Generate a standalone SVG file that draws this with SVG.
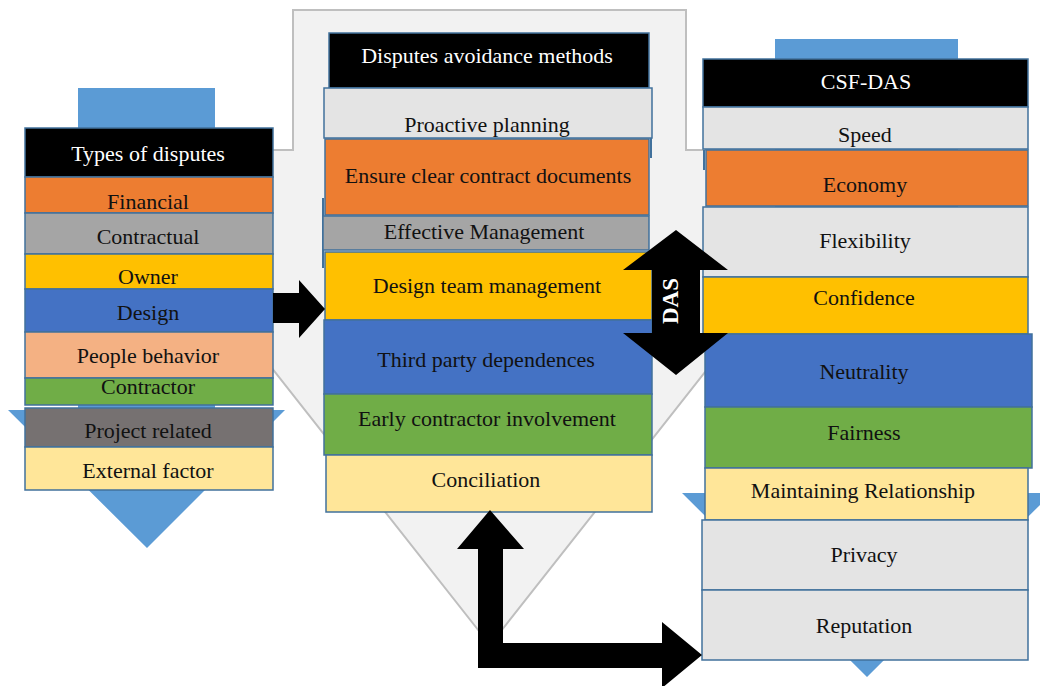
<svg xmlns="http://www.w3.org/2000/svg" width="1040" height="686" viewBox="0 0 1040 686">
<style>
text{font-family:'Liberation Serif','DejaVu Serif',serif;font-size:22px;fill:#111111;text-anchor:middle}
text.h{fill:#ffffff}
text.das{fill:#ffffff;font-weight:bold;font-size:23px}
rect.b{stroke:#41719C;stroke-width:1.5}
.hd{fill:#000000}
.or{fill:#ED7D31}
.gy{fill:#A5A5A5}
.gd{fill:#FFC000}
.bl{fill:#4472C4}
.pe{fill:#F4B183}
.gr{fill:#70AD47}
.dg{fill:#767171}
.ly{fill:#FFE699}
.lg{fill:#E4E4E4}
.bgarrow{fill:#5B9BD5;stroke:none}
.big{fill:#F2F2F2;stroke:#BFBFBF;stroke-width:2}
.blk{fill:#000000;stroke:none}
.edge{stroke:#41719C;stroke-width:2}
</style>
<rect x="0" y="0" width="1040" height="686" fill="#ffffff"/>
<g id="background-arrows">
<polygon class="big" points="293,10 686,10 686,150 880,150 490,645 100,150 293,150"/>
<polygon class="bgarrow" points="78,88 215,88 215,410 285,410 147,548 8,410 78,410"/>
<polygon class="bgarrow" points="775,39 958,39 958,493 1052,493 867,677 682,493 775,493"/>
</g>
<g id="types-of-disputes">
<rect class="b hd" x="25" y="128" width="248" height="49"/>
<text class="h" x="148" y="161">Types of disputes</text>
<rect class="b or" x="25" y="177" width="248" height="36"/>
<text x="148" y="209">Financial</text>
<rect class="b gy" x="25" y="213" width="248" height="41"/>
<text x="148" y="244">Contractual</text>
<rect class="b gd" x="25" y="254" width="248" height="35"/>
<text x="148" y="284">Owner</text>
<rect class="b bl" x="25" y="289" width="248" height="43"/>
<text x="148" y="320">Design</text>
<rect class="b pe" x="25" y="332" width="248" height="46"/>
<text x="148" y="363">People behavior</text>
<rect class="b gr" x="25" y="378" width="248" height="27"/>
<text x="148" y="394">Contractor</text>
<rect class="b dg" x="25" y="408" width="248" height="39"/>
<text x="148" y="438">Project related</text>
<rect class="b ly" x="25" y="447" width="248" height="43"/>
<text x="148" y="478">External factor</text>
</g>
<g id="disputes-avoidance-methods">
<line class="edge" x1="323" y1="198" x2="323" y2="268"/>
<line class="edge" x1="651" y1="138" x2="651" y2="158"/>
<rect class="b hd" x="329" y="33" width="320" height="55"/>
<text class="h" x="487" y="63">Disputes avoidance methods</text>
<rect class="b lg" x="324" y="88" width="328" height="50"/>
<text x="487" y="132">Proactive planning</text>
<rect class="b or" x="325" y="139" width="324" height="76"/>
<text x="488" y="183">Ensure clear contract documents</text>
<rect class="b gy" x="323" y="216" width="326" height="34"/>
<text x="484" y="239">Effective Management</text>
<rect class="b gd" x="325" y="252" width="327" height="68"/>
<text x="487" y="293">Design team management</text>
<rect class="b bl" x="324" y="320" width="328" height="74"/>
<text x="486" y="367">Third party dependences</text>
<rect class="b gr" x="324" y="394" width="328" height="61"/>
<text x="487" y="426">Early contractor involvement</text>
<rect class="b ly" x="326" y="455" width="326" height="57"/>
<text x="486" y="487">Conciliation</text>
</g>
<g id="csf-das">
<line class="edge" x1="704" y1="150" x2="704" y2="170"/>
<rect class="b hd" x="703" y="59" width="325" height="48"/>
<text class="h" x="866" y="89">CSF-DAS</text>
<rect class="b lg" x="703" y="107" width="325" height="42"/>
<text x="865" y="142">Speed</text>
<rect class="b or" x="706" y="150" width="322" height="56"/>
<text x="865" y="192">Economy</text>
<rect class="b lg" x="703" y="207" width="325" height="70"/>
<text x="865" y="248">Flexibility</text>
<rect class="b gd" x="703" y="277" width="325" height="57"/>
<text x="864" y="305">Confidence</text>
<rect class="b bl" x="705" y="334" width="327" height="73"/>
<text x="864" y="379">Neutrality</text>
<rect class="b gr" x="705" y="407" width="327" height="61"/>
<text x="864" y="440">Fairness</text>
<rect class="b ly" x="705" y="468" width="323" height="52"/>
<text x="863" y="498">Maintaining Relationship</text>
<rect class="b lg" x="702" y="520" width="326" height="70"/>
<text x="864" y="562">Privacy</text>
<rect class="b lg" x="702" y="590" width="326" height="70"/>
<text x="864" y="633">Reputation</text>
</g>
<g id="connectors">
<polygon class="blk" points="273,293 299,293 299,280 325,309 299,338 299,323 273,323"/>
<polygon class="blk" points="676,230 728,270 700,270 700,333 728,333 676,375 623,333 652,333 652,270 623,270"/>
<text class="das" x="0" y="0" transform="translate(678,301) rotate(-90)">DAS</text>
<polygon class="blk" points="490,510 524,549 503,549 503,643 662,643 662,622 702,655 662,688 662,668 478,668 478,549 457,549"/>
</g>
</svg>
